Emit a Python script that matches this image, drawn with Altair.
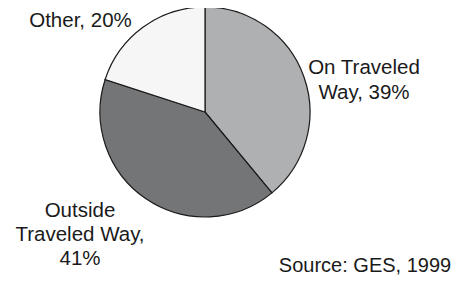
import altair as alt
import pandas as pd

categories = ["On Traveled Way", "Outside Traveled Way", "Other"]
values = [39, 41, 20]
label_texts = ["On Traveled\nWay, 39%", "Outside\nTraveled Way,\n41%", "Other, 20%"]
colors = ["#aeb0b2", "#747577", "#f6f6f6"]
source_note = "Source: GES, 1999"

df = pd.DataFrame({
    "category": categories,
    "value": values,
    "order": list(range(len(categories))),
    "label": label_texts,
})

W, H = 443, 268
CX, CY, R = 197, 104, 105
FONT = "Liberation Sans"
FS = 20.5

base = alt.Chart(df)

pie = base.mark_arc(outerRadius=R, stroke="#1a1a1a", strokeWidth=1.2).encode(
    theta=alt.Theta("value:Q", stack=True, scale=alt.Scale(range=[0, 6.283185307179586])),
    color=alt.Color("category:N", scale=alt.Scale(domain=categories, range=colors), legend=None),
    order=alt.Order("order:Q"),
    x=alt.value(CX),
    y=alt.value(CY),
)

label_pos = {
    "On Traveled Way": (356, 60, 25),
    "Outside Traveled Way": (72, 203, 24),
    "Other": (72.5, 13, 24),
}

layers = [pie]
for cat in categories:
    lx, ly, lh = label_pos[cat]
    layers.append(
        base.transform_filter(alt.datum.category == cat)
        .mark_text(font=FONT, fontSize=FS, align="center", baseline="middle",
                   lineBreak="\n", lineHeight=lh, color="#1a1a1a")
        .encode(text="label:N", x=alt.value(lx), y=alt.value(ly))
    )

src = alt.Chart(pd.DataFrame({"t": [source_note]})).mark_text(
    font=FONT, fontSize=20, align="center", baseline="middle", color="#1a1a1a"
).encode(text="t:N", x=alt.value(357), y=alt.value(257.5))
layers.append(src)

chart = alt.layer(*layers).properties(
    width=W, height=H, autosize="none", padding=0
).configure_view(stroke=None)

chart.save("out.html", embed_options={"renderer": "svg", "actions": False})
